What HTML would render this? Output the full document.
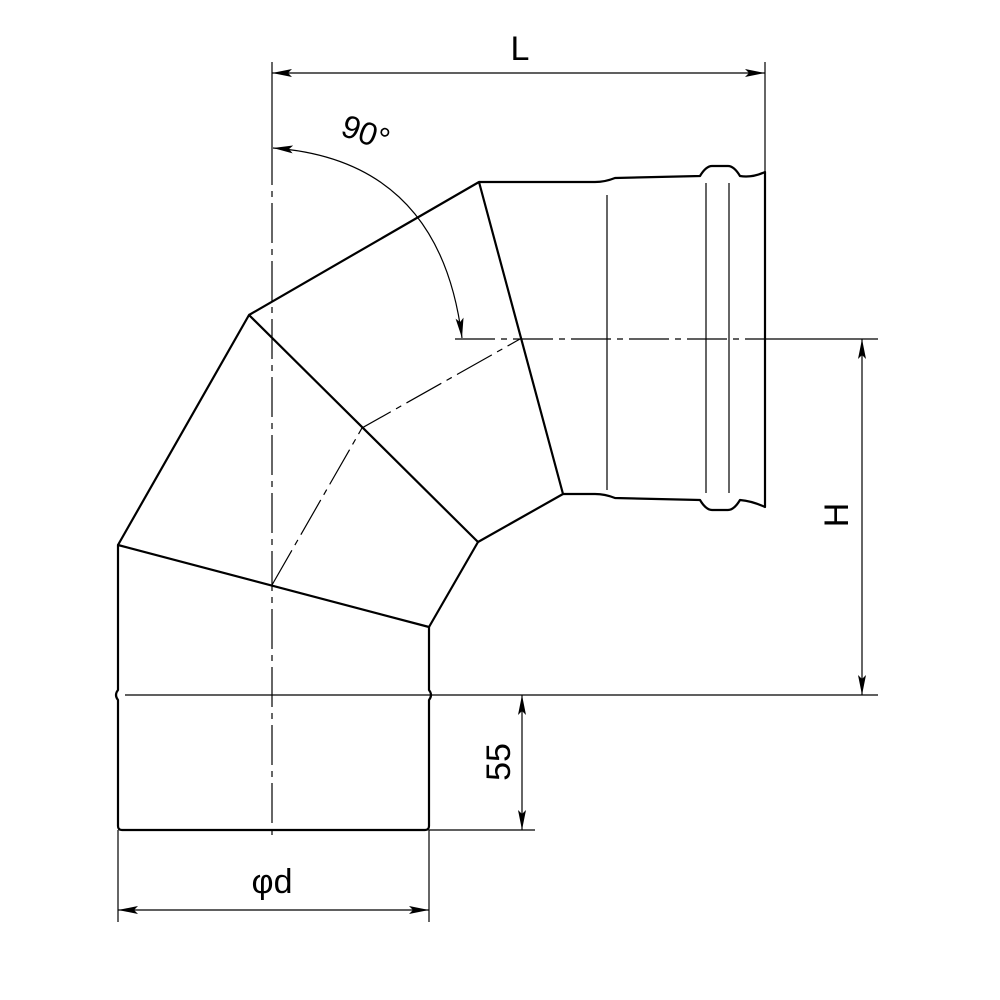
<!DOCTYPE html>
<html><head><style>body{margin:0;background:#fff}svg{display:block}</style></head><body>
<svg width="1000" height="1000" viewBox="0 0 1000 1000" xmlns="http://www.w3.org/2000/svg">
<defs>
<marker id="a" viewBox="0 0 20 8" refX="20" refY="4" markerWidth="20" markerHeight="8" orient="auto-start-reverse" markerUnits="userSpaceOnUse"><path d="M0,0 L20,4 L0,8 L4,4 Z" fill="#000"/></marker>
</defs>
<g fill="none" stroke="#000" stroke-width="2.2" stroke-linejoin="round">
<path d="M118,545 L118,690 Q114,695 118,700 L118,826 Q118,830 122,830 L425,830 Q429,830 429,826 L429,700 Q433,695 429,690 L429,627 Z"/>
<path d="M118,545 L249,315 L478,542 L429,627"/>
<path d="M249,315 L479,182 L563,494 L478,542"/>
<path d="M479,182 L595,182 Q605,182 615,178 L700,176 Q706,166 712,166 L728,166 Q734,166 740,176 Q752,178 765,172 L765,507 Q752,501 740,500 Q734,510 728,510 L712,510 Q706,510 700,500 L615,498 Q605,494 595,494 L563,494"/>
</g>
<g stroke="#000" stroke-width="1.2" fill="none">
<line x1="607" y1="195" x2="607" y2="490"/>
<line x1="706" y1="183" x2="706" y2="493"/>
<line x1="729" y1="183" x2="729" y2="493"/>
<line x1="125" y1="695" x2="878" y2="695"/>
<line x1="429" y1="830" x2="535" y2="830"/>
<line x1="765" y1="62" x2="765" y2="172"/>
<line x1="272" y1="62" x2="272" y2="145"/>
<line x1="118" y1="830" x2="118" y2="922"/>
<line x1="429" y1="830" x2="429" y2="922"/>
<line x1="765" y1="339" x2="878" y2="339"/>
<g stroke-dasharray="40,6,6,6">
<line x1="272" y1="145" x2="272" y2="838"/>
<line x1="455" y1="339" x2="765" y2="339"/>
<polyline points="272,585 362,428 520,339"/>
</g>
<line x1="272" y1="73" x2="765" y2="73" marker-start="url(#a)" marker-end="url(#a)"/>
<line x1="862" y1="339" x2="862" y2="695" marker-start="url(#a)" marker-end="url(#a)"/>
<line x1="522" y1="695" x2="522" y2="830" marker-start="url(#a)" marker-end="url(#a)"/>
<line x1="118" y1="910" x2="429" y2="910" marker-start="url(#a)" marker-end="url(#a)"/>
<path d="M273,148 Q440,160 462,338" marker-start="url(#a)" marker-end="url(#a)"/>
</g>
<g font-family="Liberation Sans, sans-serif" font-size="34" fill="#000" text-anchor="middle">
<text x="520" y="60">L</text>
<text x="272" y="893">φd</text>
<text transform="translate(848,515) rotate(-90)">H</text>
<text transform="translate(510,762) rotate(-90)">55</text>
<text transform="translate(362,143) rotate(20)" font-size="32">90°</text>
</g>
</svg>
</body></html>
